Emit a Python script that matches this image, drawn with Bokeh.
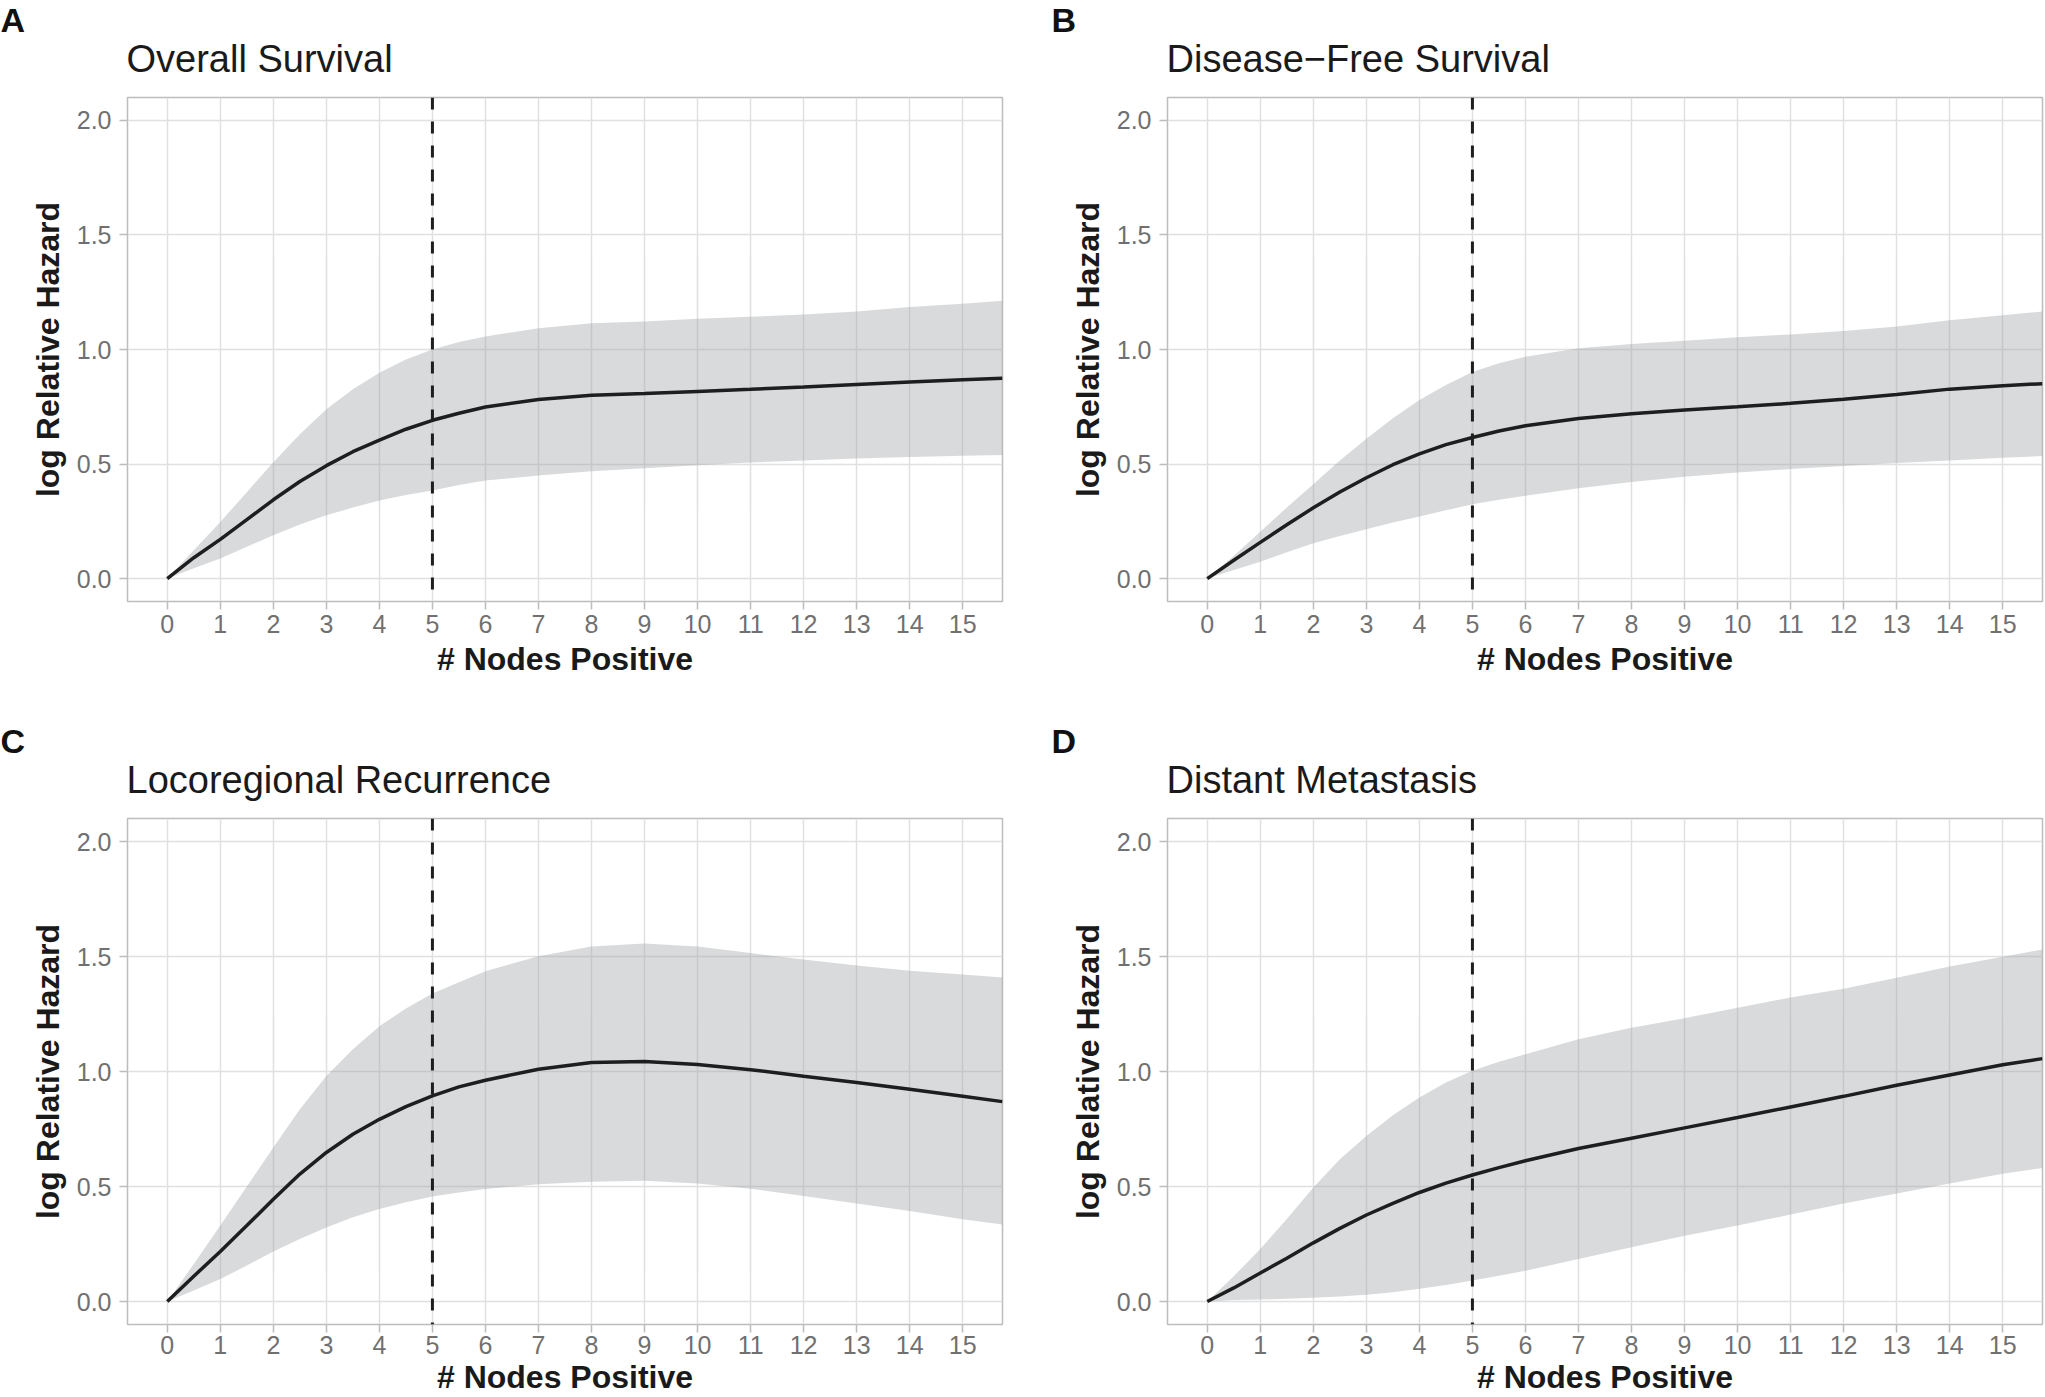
from bokeh.plotting import figure
from bokeh.layouts import column, row
from bokeh.models import Span, Title, FixedTicker, NumeralTickFormatter, Range1d
from bokeh.embed import file_html
from bokeh.resources import INLINE

# ---- data ----
nodes = [0, 0.5, 1, 1.5, 2, 2.5, 3, 3.5, 4, 4.5, 5, 5.5, 6, 7, 8, 9, 10, 11, 12, 13, 14, 15, 15.75]

os_fit = [0, 0.091, 0.171, 0.257, 0.344, 0.424, 0.493, 0.554, 0.604, 0.652, 0.691, 0.722, 0.749, 0.782, 0.80, 0.808, 0.817, 0.826, 0.836, 0.847, 0.858, 0.868, 0.875]
os_lo = [0, 0.045, 0.088, 0.139, 0.189, 0.236, 0.276, 0.31, 0.341, 0.365, 0.385, 0.408, 0.428, 0.45, 0.469, 0.482, 0.495, 0.507, 0.516, 0.524, 0.531, 0.536, 0.539]
os_hi = [0, 0.124, 0.247, 0.377, 0.508, 0.63, 0.739, 0.826, 0.898, 0.956, 1.0, 1.033, 1.057, 1.093, 1.115, 1.122, 1.134, 1.143, 1.153, 1.166, 1.185, 1.20, 1.213]

dfs_fit = [0, 0.08, 0.158, 0.235, 0.309, 0.378, 0.44, 0.497, 0.544, 0.585, 0.616, 0.644, 0.667, 0.699, 0.72, 0.736, 0.75, 0.765, 0.783, 0.804, 0.827, 0.842, 0.851]
dfs_lo = [0, 0.037, 0.073, 0.115, 0.154, 0.186, 0.215, 0.245, 0.271, 0.298, 0.324, 0.344, 0.362, 0.394, 0.422, 0.444, 0.463, 0.478, 0.492, 0.505, 0.516, 0.527, 0.535]
dfs_hi = [0, 0.1, 0.205, 0.31, 0.412, 0.515, 0.61, 0.70, 0.78, 0.845, 0.902, 0.94, 0.968, 1.006, 1.024, 1.038, 1.053, 1.066, 1.081, 1.10, 1.128, 1.15, 1.166]

lrr_fit = [0, 0.11, 0.217, 0.33, 0.445, 0.554, 0.648, 0.727, 0.792, 0.847, 0.894, 0.933, 0.962, 1.01, 1.039, 1.043, 1.03, 1.008, 0.979, 0.952, 0.923, 0.892, 0.869]
lrr_lo = [0, 0.048, 0.098, 0.156, 0.217, 0.272, 0.322, 0.366, 0.402, 0.431, 0.456, 0.474, 0.489, 0.51, 0.521, 0.525, 0.513, 0.49, 0.459, 0.426, 0.393, 0.358, 0.335]
lrr_hi = [0, 0.163, 0.33, 0.5, 0.67, 0.836, 0.98, 1.097, 1.197, 1.274, 1.339, 1.388, 1.436, 1.501, 1.544, 1.556, 1.544, 1.515, 1.487, 1.461, 1.438, 1.422, 1.409]

dm_fit = [0, 0.059, 0.124, 0.188, 0.255, 0.318, 0.376, 0.427, 0.474, 0.515, 0.55, 0.582, 0.612, 0.665, 0.71, 0.755, 0.80, 0.846, 0.892, 0.94, 0.985, 1.029, 1.056]
dm_lo = [0, 0.006, 0.009, 0.012, 0.016, 0.022, 0.029, 0.04, 0.055, 0.072, 0.091, 0.112, 0.134, 0.185, 0.236, 0.286, 0.33, 0.378, 0.426, 0.47, 0.513, 0.555, 0.58]
dm_hi = [0, 0.11, 0.228, 0.359, 0.496, 0.619, 0.72, 0.81, 0.887, 0.952, 1.003, 1.042, 1.075, 1.14, 1.19, 1.232, 1.277, 1.322, 1.36, 1.408, 1.457, 1.499, 1.53]

panel_letters = ["A", "B", "C", "D"]
panel_titles = ["Overall Survival", "Disease\u2212Free Survival", "Locoregional Recurrence", "Distant Metastasis"]
x_ticks = list(range(0, 16))
y_ticks = [0, 0.5, 1.0, 1.5, 2.0]
cutoff = 5
x_label = "# Nodes Positive"
y_label = "log Relative Hazard"

FONT = "Liberation Sans"


def make_panel(letter, title, fit, lo, hi, width, height, bl, br, bt, bb, letter_offset,
               letter_standoff, title_standoff, tick_standoff, label_standoff):
    p = figure(width=width, height=height, output_backend="svg", toolbar_location=None,
               x_range=Range1d(-0.75, 15.75), y_range=Range1d(-0.1, 2.1),
               min_border_left=bl, min_border_right=br, min_border_top=bt, min_border_bottom=bb,
               title=letter)
    p.background_fill_color = "white"
    p.border_fill_color = "white"
    p.outline_line_color = "#BDBDBD"
    p.outline_line_width = 1.5

    p.varea(x=nodes, y1=lo, y2=hi, fill_color="#9A9DA2", fill_alpha=0.38)
    p.line(x=nodes, y=fit, line_color="#1E1E1E", line_width=3.5)
    p.add_layout(Span(location=cutoff, dimension="height", line_color="#1E1E1E",
                      line_width=3, line_dash="12 12"))

    p.xaxis.ticker = FixedTicker(ticks=x_ticks)
    p.yaxis.ticker = FixedTicker(ticks=y_ticks)
    p.yaxis.formatter = NumeralTickFormatter(format="0.0")
    for ax in (p.xaxis[0], p.yaxis[0]):
        ax.axis_line_color = None
        ax.major_tick_line_color = "#BDBDBD"
        ax.major_tick_line_width = 1.5
        ax.major_tick_out = 8
        ax.major_tick_in = 0
        ax.minor_tick_line_color = None
        ax.major_label_text_font = FONT
        ax.major_label_text_font_size = "25px"
        ax.major_label_text_color = "#707070"
        ax.axis_label_text_font = FONT
        ax.axis_label_text_font_size = "32px"
        ax.axis_label_text_font_style = "bold"
        ax.axis_label_text_color = "#1A1A1A"
    p.xaxis.axis_label = x_label
    p.yaxis.axis_label = y_label
    p.xaxis.major_label_standoff = tick_standoff
    p.yaxis.major_label_standoff = 8
    p.xaxis.axis_label_standoff = label_standoff
    p.yaxis.axis_label_standoff = 8

    p.xgrid.grid_line_color = "#E0E0E0"
    p.ygrid.grid_line_color = "#E0E0E0"
    p.xgrid.grid_line_width = 1.5
    p.ygrid.grid_line_width = 1.5

    # panel letter (outermost title)
    p.title.align = "left"
    p.title.offset = letter_offset
    p.title.text_font = FONT
    p.title.text_font_size = "34px"
    p.title.text_font_style = "bold"
    p.title.text_color = "#111111"
    p.title.standoff = letter_standoff
    # panel title (closest to the frame)
    p.add_layout(Title(text=title, align="left", offset=-1, text_font=FONT,
                       text_font_size="38px", text_font_style="normal", text_color="#1A1A1A",
                       standoff=title_standoff), "above")
    return p


W1, W2 = 1040, 1005
H1, H2 = 706, 691
pA = make_panel(panel_letters[0], panel_titles[0], os_fit, os_lo, os_hi, W1, H1, 127, 38, 97, 105, -127, -40, 35, 5, 5)
pB = make_panel(panel_letters[1], panel_titles[1], dfs_fit, dfs_lo, dfs_hi, W2, H1, 127, 3, 97, 105, -116, -40, 35, 5, 5)
pC = make_panel(panel_letters[2], panel_titles[2], lrr_fit, lrr_lo, lrr_hi, W1, H2, 127, 38, 112, 73, -127, -40, 35, 3, 2)
pD = make_panel(panel_letters[3], panel_titles[3], dm_fit, dm_lo, dm_hi, W2, H2, 127, 3, 112, 73, -116, -40, 35, 3, 2)

layout = column(row(pA, pB), row(pC, pD))
open("out.html", "w").write(file_html(layout, INLINE))
